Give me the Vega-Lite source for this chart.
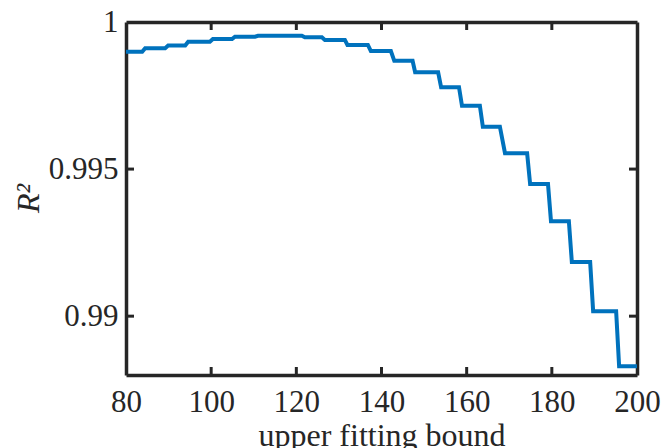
{
  "$schema": "https://vega.github.io/schema/vega-lite/v6.json",
  "width": 511,
  "height": 353,
  "autosize": "none",
  "padding": {"left": 126, "top": 22, "right": 34, "bottom": 73},
  "background": "white",
  "config": {
    "view": {"stroke": null},
    "axis": {
      "grid": false,
      "ticks": false,
      "domainColor": "#262626",
      "domainWidth": 3.5,
      "labelFont": "Liberation Serif",
      "labelFontSize": 31,
      "labelColor": "#262626",
      "titleFont": "Liberation Serif",
      "titleFontSize": 32,
      "titleFontWeight": "normal",
      "titleColor": "#262626"
    }
  },
  "datasets": {
    "curve": [
      {"x": 80, "r2": 0.99899}, {"x": 83.8, "r2": 0.99899},
      {"x": 84.5, "r2": 0.99911}, {"x": 89.2, "r2": 0.99911},
      {"x": 89.9, "r2": 0.9992}, {"x": 93.9, "r2": 0.9992},
      {"x": 94.6, "r2": 0.99933}, {"x": 99.7, "r2": 0.99933},
      {"x": 100.4, "r2": 0.99942}, {"x": 104.9, "r2": 0.99942},
      {"x": 105.6, "r2": 0.9995}, {"x": 110.3, "r2": 0.9995},
      {"x": 111, "r2": 0.99953}, {"x": 121.3, "r2": 0.99953},
      {"x": 122, "r2": 0.99948}, {"x": 126, "r2": 0.99948},
      {"x": 126.7, "r2": 0.99939}, {"x": 131.4, "r2": 0.99939},
      {"x": 132, "r2": 0.99922}, {"x": 136.8, "r2": 0.99922},
      {"x": 137.5, "r2": 0.99901}, {"x": 142.2, "r2": 0.99901},
      {"x": 143, "r2": 0.99868}, {"x": 147.3, "r2": 0.99868},
      {"x": 147.9, "r2": 0.99829}, {"x": 153.3, "r2": 0.99829},
      {"x": 154, "r2": 0.99778}, {"x": 158.2, "r2": 0.99778},
      {"x": 158.9, "r2": 0.99715}, {"x": 163.1, "r2": 0.99715},
      {"x": 163.8, "r2": 0.99644}, {"x": 167.8, "r2": 0.99644},
      {"x": 169, "r2": 0.99554}, {"x": 174.2, "r2": 0.99554},
      {"x": 174.9, "r2": 0.99449}, {"x": 179.1, "r2": 0.99449},
      {"x": 179.8, "r2": 0.99323}, {"x": 184, "r2": 0.99323},
      {"x": 184.7, "r2": 0.99184}, {"x": 189, "r2": 0.99184},
      {"x": 189.7, "r2": 0.99017}, {"x": 195.1, "r2": 0.99017},
      {"x": 195.8, "r2": 0.9883}, {"x": 200, "r2": 0.9883}
    ],
    "xticks": [{"t": 100}, {"t": 120}, {"t": 140}, {"t": 160}, {"t": 180}],
    "yticks": [{"t": 0.99}, {"t": 0.995}]
  },
  "layer": [
    {
      "data": {"name": "curve"},
      "mark": {"type": "line", "opacity": 0},
      "encoding": {
        "x": {"field": "x", "type": "quantitative",
              "scale": {"domain": [80, 200], "nice": false, "zero": false},
              "axis": {"orient": "top", "labels": false, "title": null,
                       "values": [80, 100, 120, 140, 160, 180, 200]}},
        "y": {"field": "r2", "type": "quantitative",
              "scale": {"domain": [0.988, 1], "nice": false, "zero": false},
              "axis": {"orient": "right", "labels": false, "title": null,
                       "values": [0.99, 0.995, 1]}}
      }
    },
    {
      "data": {"name": "curve"},
      "mark": {"type": "line", "color": "#0072BD", "strokeWidth": 4, "strokeCap": "butt"},
      "encoding": {
        "x": {"field": "x", "type": "quantitative",
              "scale": {"domain": [80, 200], "nice": false, "zero": false},
              "axis": {"orient": "bottom", "values": [80, 100, 120, 140, 160, 180, 200],
                       "labelPadding": 12, "labelFlush": false,
                       "title": "upper fitting bound",
                       "titleX": 255.5, "titleY": 70, "titleAlign": "center", "titleBaseline": "alphabetic"}},
        "y": {"field": "r2", "type": "quantitative",
              "scale": {"domain": [0.988, 1], "nice": false, "zero": false},
              "axis": {"orient": "left", "values": [0.99, 0.995, 1],
                       "format": "~g", "labelPadding": 8, "labelFlush": false,
                       "title": "R²", "titleFontStyle": "italic",
                       "titleX": -98, "titleY": 176, "titleAngle": -90,
                       "titleAlign": "center", "titleBaseline": "middle"}}
      }
    },
    {
      "data": {"name": "xticks"},
      "mark": {"type": "tick", "orient": "vertical", "size": 8, "thickness": 3, "color": "#262626", "opacity": 1, "yOffset": -4},
      "encoding": {
        "x": {"field": "t", "type": "quantitative", "axis": null},
        "y": {"datum": 0.988, "type": "quantitative", "axis": null}
      }
    },
    {
      "data": {"name": "xticks"},
      "mark": {"type": "tick", "orient": "vertical", "size": 8, "thickness": 3, "color": "#262626", "opacity": 1, "yOffset": 4},
      "encoding": {
        "x": {"field": "t", "type": "quantitative", "axis": null},
        "y": {"datum": 1, "type": "quantitative", "axis": null}
      }
    },
    {
      "data": {"name": "yticks"},
      "mark": {"type": "tick", "orient": "horizontal", "size": 8, "thickness": 3, "color": "#262626", "opacity": 1, "xOffset": 4},
      "encoding": {
        "y": {"field": "t", "type": "quantitative", "axis": null},
        "x": {"datum": 80, "type": "quantitative", "axis": null}
      }
    },
    {
      "data": {"name": "yticks"},
      "mark": {"type": "tick", "orient": "horizontal", "size": 8, "thickness": 3, "color": "#262626", "opacity": 1, "xOffset": -4},
      "encoding": {
        "y": {"field": "t", "type": "quantitative", "axis": null},
        "x": {"datum": 200, "type": "quantitative", "axis": null}
      }
    }
  ],
  "resolve": {"axis": {"x": "independent", "y": "independent"}}
}
